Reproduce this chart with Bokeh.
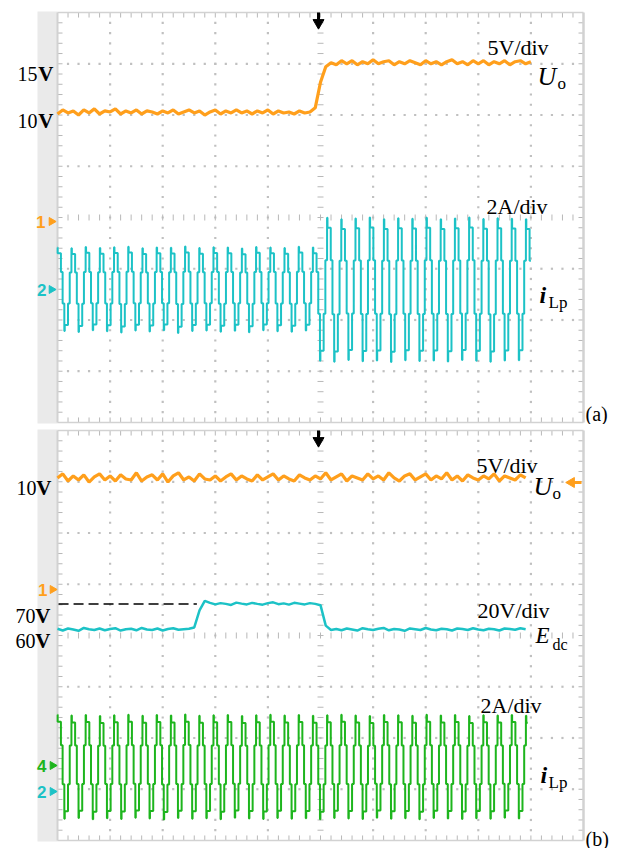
import numpy as np
from bokeh.plotting import figure
from bokeh.models import Range1d, Label
from bokeh.layouts import column
from bokeh.embed import file_html
from bokeh.resources import INLINE

# ---------------- data ----------------
# time axis: oscilloscope divisions, trigger at 0, one sample every 0.1 div
SAMPLE_STEP = 0.1
T_START = -5.0

# (a) output voltage Uo [V] during the load step
uo_a = [10.1, 10.5, 10.2, 10.4, 10.0, 10.5, 10.2, 10.6, 10.1, 10.4,
        10.3, 10.6, 10.1, 10.4, 10.2, 10.5, 10.1, 10.4, 10.3, 10.1,
        10.4, 10.2, 10.5, 10.1, 10.3, 10.5, 10.2, 10.4, 10.0, 10.3,
        10.5, 10.1, 10.4, 10.2, 10.5, 10.2, 10.4, 10.1, 10.4, 10.2,
        10.5, 10.1, 10.4, 10.2, 10.3, 10.1, 10.4, 10.2,
        10.3, 10.7, 13.2, 14.7, 15.1,
        14.9, 15.3, 15.0, 15.3, 14.9, 15.2, 15.0, 15.4, 15.0, 15.2,
        15.3, 14.9, 15.2, 15.0, 15.3, 15.1, 14.9, 15.3, 15.0, 15.2,
        14.9, 15.2, 15.4, 15.0, 15.2, 14.9, 15.3, 15.0, 15.3, 14.9,
        15.2, 15.0, 15.3, 14.9, 15.2, 15.3, 15.0, 15.2]

# (b) output voltage Uo [V] during the input-voltage step
uo_b = [10.4, 10.8, 10.1, 10.6, 10.2, 10.7, 10.0, 10.5, 10.8, 10.2,
        10.6, 10.1, 10.7, 10.3, 10.2, 10.9, 10.1, 10.5, 10.7, 10.2,
        10.8, 10.0, 10.6, 10.9, 10.2, 10.5, 10.1, 10.8, 10.3, 10.2,
        10.6, 10.1, 10.5, 10.8, 10.2, 10.6, 10.3, 10.1, 10.7, 10.2,
        10.5, 10.8, 10.2, 10.6, 10.3, 10.1, 10.7, 10.4, 10.2, 10.6,
        10.3, 10.9, 10.2, 10.5, 10.8, 10.1, 10.6, 10.4, 10.2, 10.8,
        10.3, 10.6, 10.2, 10.9, 10.4, 10.1, 10.6, 10.8, 10.2, 10.5,
        10.8, 10.2, 10.6, 10.3, 10.9, 10.2, 10.6, 10.1, 10.7, 10.4,
        10.2, 10.6, 10.3, 10.8, 10.1, 10.6, 10.4, 10.2, 10.7, 10.4]

# (b) input voltage Edc [V]
edc_b = [60.3, 59.6, 60.4, 60.0, 59.5, 60.6, 60.1, 59.8, 60.4, 59.7,
         60.2, 60.5, 59.6, 60.1, 60.3, 59.7, 60.6, 60.0, 59.8, 60.4,
         59.6, 60.2, 60.5, 59.9, 60.1, 60.3,
         60.8, 67.5, 71.2,
         70.4, 69.8, 70.3, 70.0, 69.6, 70.5, 70.1, 69.8, 70.4, 70.0,
         69.7, 70.3, 70.6, 69.9, 70.2, 69.7, 70.4, 70.1, 69.8, 70.3, 70.0,
         69.5, 61.5, 59.8,
         60.2, 59.7, 60.4, 60.0, 59.6, 60.5, 60.1, 59.8, 60.3, 60.6,
         59.7, 60.2, 60.0, 59.5, 60.4, 60.1, 59.8, 60.6, 60.0, 59.7,
         60.3, 60.1, 59.6, 60.4, 60.2, 59.8, 60.5, 60.0, 59.7, 60.3,
         60.1, 59.6, 60.4, 60.2, 59.9, 60.5, 60.1]
EDC_RISE_T = -2.35   # div, where Edc leaves 60 V

# inductor current iLp [A]: positive and negative peak of every switching cycle
ilp_a_pos = [1.60, 1.57, 1.62, 1.58, 1.61, 1.63, 1.57, 1.60, 1.59, 1.64,
             1.58, 1.61, 1.60, 1.56, 1.62, 1.60, 1.58, 1.63, 1.60,
             2.76, 2.70, 2.73, 2.77, 2.70, 2.74, 2.72, 2.76, 2.70, 2.73,
             2.77, 2.71, 2.74, 2.72, 2.70]
ilp_a_neg = [-1.66, -1.70, -1.63, -1.67, -1.72, -1.64, -1.68, -1.63, -1.74, -1.66,
             -1.64, -1.69, -1.65, -1.71, -1.63, -1.67, -1.69, -1.64,
             -2.82, -2.86, -2.79, -2.84, -2.81, -2.87, -2.80, -2.83, -2.81, -2.85,
             -2.79, -2.82, -2.86, -2.81, -2.80, -2.84]
ilp_b_pos = [1.98, 1.95, 1.97, 1.93, 1.96, 1.98, 1.94, 1.97, 1.95, 1.99,
             1.94, 1.96, 1.97, 1.93, 1.96, 1.98, 1.95, 1.97,
             1.94, 1.96, 1.98, 1.95, 1.93, 1.97, 1.96, 1.94, 1.98, 1.95,
             1.97, 1.93, 1.96, 1.95, 1.97, 1.94]
ilp_b_neg = [-2.08, -2.05, -2.10, -2.06, -2.09, -2.04, -2.07, -2.11, -2.05, -2.08,
             -2.06, -2.10, -2.04, -2.07, -2.09, -2.05, -2.08, -2.06,
             -2.10, -2.05, -2.07, -2.09, -2.04, -2.08, -2.06, -2.10, -2.05, -2.07,
             -2.09, -2.06, -2.08, -2.04, -2.07, -2.09]

# normalised stepped shape of one switching cycle (phase in periods, level / peak)
cycle_phase = [0.00, 0.12, 0.24, 0.27, 0.50, 0.62, 0.74, 0.77]
cycle_level = [-0.35, 0.40, 1.00, 0.86, 0.40, -0.35, -1.00, -0.86]
CYCLE = 0.270          # switching period [div]
FIRST_CYCLE = -5.07    # start of the first recorded cycle [div]

# ---------------- styling ----------------
ORANGE = "#ff9f1c"
CYAN = "#1cc2c6"
GREEN = "#1db51d"
DOT = "#c0c0c0"
TICK = "#b8b8b8"
SERIF = "Liberation Serif"
PXX = 52.6     # px per horizontal division
PXY = 51.24    # px per vertical division
W, H = 619, 424


def X(px):
    return (px - 320) / PXX


def Ya(py):
    return (217 - py) / PXY


def Yb(py):
    return (635 - py) / PXY


def times(n):
    return T_START + SAMPLE_STEP * np.arange(n)


def build_current(pos, neg, t_start, t_end):
    xs, ys = [], []
    for k, (hi, lo) in enumerate(zip(pos, neg)):
        t0 = FIRST_CYCLE + k * CYCLE
        lo_prev = neg[k - 1] if k > 0 else lo
        for ph, lv in zip(cycle_phase, cycle_level):
            xs.append(t0 + ph * CYCLE)
            if lv > 0:
                ys.append(lv * hi)
            elif ph < 0.3:
                ys.append(lv * -lo_prev)
            else:
                ys.append(lv * -lo)
    xs = np.array(xs)
    ys = np.array(ys)
    first = np.searchsorted(xs, t_start, side="right") - 1
    last = np.searchsorted(xs, t_end, side="right")
    x = np.concatenate([[t_start], xs[first + 1:last], [t_end]])
    y = np.concatenate([[ys[first]], ys[first + 1:last], [ys[last - 1]]])
    return x, y


def make_panel(page_top, ypx):
    y_lo, y_hi = ypx(page_top + H), ypx(page_top)
    p = figure(width=W, height=H, x_range=Range1d(X(0), X(W)),
               y_range=Range1d(y_lo, y_hi), x_axis_type=None, y_axis_type=None,
               toolbar_location=None, output_backend="svg",
               min_border_left=0, min_border_right=0,
               min_border_top=0, min_border_bottom=0,
               background_fill_color="white", border_fill_color="white",
               outline_line_color=None)
    # grey strip at the left of the screen
    p.quad(left=[X(37)], right=[-5.0], bottom=[-4.02], top=[4.02],
           fill_color="#eaeaea", line_color=None)
    # dotted graticule
    fx = np.round(np.arange(-5, 5.0001, 0.2), 6)[1:-1]
    fy = np.round(np.arange(-4, 4.0001, 0.2), 6)[1:-1]
    dx, dy = [], []
    for gy in [-3, -2, -1, 1, 2, 3]:
        dx += list(fx)
        dy += [gy] * len(fx)
    for gx in [-4, -3, -2, -1, 1, 2, 3, 4]:
        dx += [gx] * len(fy)
        dy += list(fy)
    p.scatter(dx, dy, marker="square", size=2.2, fill_color=DOT, line_color=None)
    # tick marks on centre lines and edges
    x0, y0, x1, y1 = [], [], [], []
    hx, hy = 3 / PXX, 3 / PXY
    ex, ey = 5 / PXX, 5 / PXY
    for v in fx:
        x0 += [v, v, v]
        x1 += [v, v, v]
        y0 += [-hy, 4 - ey, -4]
        y1 += [hy, 4, -4 + ey]
    for v in fy:
        y0 += [v, v, v]
        y1 += [v, v, v]
        x0 += [-hx, -5, 5 - ex]
        x1 += [hx, -5 + ex, 5]
    p.segment(x0, y0, x1, y1, line_color=TICK, line_width=1)
    # screen border
    p.segment([-5, -5, -5, 5], [4, -4, -4, -4], [5, 5, -5, 5], [4, -4, 4, 4],
              line_color="#d2d2d2", line_width=[1.5, 1.5, 2, 2.5])
    # trigger position arrow
    p.segment([-0.038], [4.0], [-0.038], [3.86], line_color="black", line_width=3)
    p.scatter([-0.038], [3.80], marker="inverted_triangle", size=11,
              fill_color="black", line_color="black")
    return p, y_lo, y_hi


def ch_range(y_lo, y_hi, ground_div, per_div):
    return Range1d((y_lo - ground_div) * per_div, (y_hi - ground_div) * per_div)


def lab(p, x, y, text, size, style="normal", align="left", baseline="alphabetic",
        color="black", font=SERIF):
    p.add_layout(Label(x=x, y=y, text=text, text_font=font, text_font_size=f"{size}px",
                       text_font_style=style, text_align=align, text_baseline=baseline,
                       text_color=color))


def marker(p, xr, xt, y, text, color):
    lab(p, xr, y, text, 17, "bold", align="right", baseline="middle", color=color,
        font="Liberation Sans")
    p.scatter([xt], [y], marker="triangle", angle=-np.pi / 2, size=8,
              fill_color=color, line_color=color)


# ---------------- panel (a) ----------------
pa, a_lo, a_hi = make_panel(0, Ya)
pa.extra_y_ranges = {"uo": ch_range(a_lo, a_hi, 0.0, 5.0),
                     "il": ch_range(a_lo, a_hi, -1.386, 2.0)}
xa, ya = build_current(ilp_a_pos, ilp_a_neg, -5.0, 4.0)
pa.step(xa, ya, mode="after", y_range_name="il", line_color=CYAN, line_width=2)
pa.line(times(len(uo_a)), uo_a, y_range_name="uo", line_color=ORANGE, line_width=3.2)

lab(pa, X(37), Ya(73), "15", 20, align="right")
lab(pa, X(53), Ya(73), "V", 21, "bold", align="right")
lab(pa, X(37), Ya(120), "10", 20, align="right")
lab(pa, X(53), Ya(120), "V", 21, "bold", align="right")
lab(pa, X(487), Ya(47), "5V/div", 22)
lab(pa, X(537), Ya(76), "U", 26, "italic")
lab(pa, X(557), Ya(83), "o", 17)
lab(pa, X(486), Ya(206), "2A/div", 22)
lab(pa, X(539), Ya(294), "i", 24, "bold italic")
lab(pa, X(548), Ya(302), "Lp", 17)
lab(pa, X(585), Ya(413), "(a)", 20)
marker(pa, X(45), X(51), Ya(221), "1", ORANGE)
marker(pa, X(46), X(51), Ya(289), "2", CYAN)

# ---------------- panel (b) ----------------
pb, b_lo, b_hi = make_panel(H, Yb)
pb.extra_y_ranges = {"uo": ch_range(b_lo, b_hi, 0.995, 5.0),
                     "edc": ch_range(b_lo, b_hi, -2.883, 20.0),
                     "il": ch_range(b_lo, b_hi, -2.537, 2.0)}
xb, yb = build_current(ilp_b_pos, ilp_b_neg, -5.0, 3.94)
pb.step(xb, yb, mode="after", y_range_name="il", line_color=GREEN, line_width=2)
pb.line([-4.98, EDC_RISE_T], [70, 70], y_range_name="edc", line_color="black",
        line_width=1.5, line_dash="10 5")
pb.line(times(len(edc_b)), edc_b, y_range_name="edc", line_color=CYAN, line_width=2.5)
pb.line(times(len(uo_b)), uo_b, y_range_name="uo", line_color=ORANGE, line_width=3.2)

# trigger level arrow at the right
pb.segment([X(572)], [Yb(482)], [X(581)], [Yb(482)], line_color=ORANGE, line_width=3)
pb.scatter([X(571)], [Yb(482)], marker="triangle", angle=np.pi / 2, size=10,
           fill_color=ORANGE, line_color=ORANGE)

lab(pb, X(36), Yb(487), "10", 20, align="right")
lab(pb, X(51), Yb(487), "V", 21, "bold", align="right")
lab(pb, X(476), Yb(465), "5V/div", 22)
lab(pb, X(533), Yb(486), "U", 26, "italic")
lab(pb, X(552), Yb(493), "o", 17)
lab(pb, X(35), Yb(615), "70", 20, align="right")
lab(pb, X(50), Yb(615), "V", 21, "bold", align="right")
lab(pb, X(35), Yb(640), "60", 20, align="right")
lab(pb, X(50), Yb(640), "V", 21, "bold", align="right")
lab(pb, X(477), Yb(610), "20V/div", 22)
lab(pb, X(535), Yb(635), "E", 23, "italic")
lab(pb, X(552), Yb(644), "dc", 16)
lab(pb, X(480), Yb(705), "2A/div", 22)
lab(pb, X(540), Yb(774), "i", 24, "bold italic")
lab(pb, X(548), Yb(782), "Lp", 17)
lab(pb, X(585), Yb(838), "(b)", 20)
marker(pb, X(47), X(52), Yb(589), "1", ORANGE)
marker(pb, X(46), X(52), Yb(765), "4", GREEN)
marker(pb, X(46), X(52), Yb(791), "2", CYAN)

layout = column(pa, pb, spacing=0)
open("out.html", "w").write(file_html(layout, INLINE))
